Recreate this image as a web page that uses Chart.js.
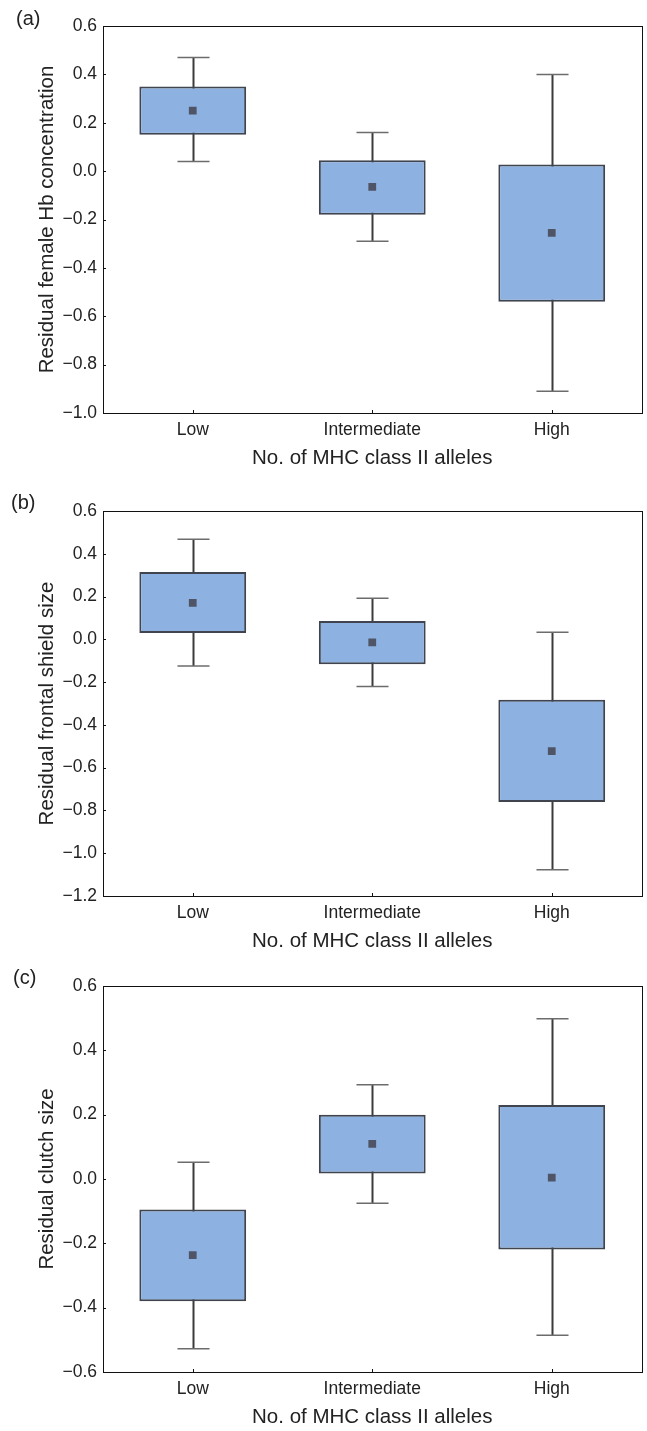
<!DOCTYPE html>
<html>
<head>
<meta charset="utf-8">
<script src="https://cdn.jsdelivr.net/npm/chart.js@4.4.1/dist/chart.umd.min.js"></script>
<style>
  html, body { margin: 0; padding: 0; background: #fff; overflow: hidden; }
  body { width: 647px; height: 1431px; position: relative; font-family: "Liberation Sans", Arial, sans-serif; }
  .panel { position: absolute; left: 0; width: 647px; }
  .tag { position: absolute; font-size: 20px; color: #222; line-height: 24px; }
</style>
</head>
<body>
<div class="panel" style="top:0px;height:471px"><canvas id="chartA"></canvas></div>
<div class="panel" style="top:485px;height:469px"><canvas id="chartB"></canvas></div>
<div class="panel" style="top:960px;height:470px"><canvas id="chartC"></canvas></div>
<div class="tag" style="left:16px;top:6px">(a)</div>
<div class="tag" style="left:11px;top:490px">(b)</div>
<div class="tag" style="left:13px;top:965px">(c)</div>
<script>
const categories = ["Low", "Intermediate", "High"]
const xTitle = "No. of MHC class II alleles"

// (a) haemoglobin
const hbMin  = [0.04, -0.29, -0.91]
const hbQ1   = [0.15, -0.18, -0.54]
const hbMean = [0.25, -0.065, -0.255]
const hbQ3   = [0.35, 0.045, 0.027]
const hbMax  = [0.47, 0.16, 0.40]
const hbTicks = [0.6, 0.4, 0.2, 0.0, -0.2, -0.4, -0.6, -0.8, -1.0]

// (b) frontal shield
const shieldMin  = [-0.125, -0.22, -1.077]
const shieldQ1   = [0.03, -0.116, -0.76]
const shieldMean = [0.17, -0.014, -0.523]
const shieldQ3   = [0.315, 0.086, -0.283]
const shieldMax  = [0.468, 0.192, 0.033]
const shieldTicks = [0.6, 0.4, 0.2, 0.0, -0.2, -0.4, -0.6, -0.8, -1.0, -1.2]

// (c) clutch size
const clutchMin  = [-0.528, -0.075, -0.486]
const clutchQ1   = [-0.38, 0.017, -0.219]
const clutchMean = [-0.237, 0.109, 0.004]
const clutchQ3   = [-0.095, 0.200, 0.230]
const clutchMax  = [0.052, 0.293, 0.498]
const clutchTicks = [0.6, 0.4, 0.2, 0.0, -0.2, -0.4, -0.6]

const FONT = "'Liberation Sans', Arial, sans-serif"

function fmt(v) {
  let r = Math.round(v * 10) / 10
  if (Math.abs(r) < 1e-9) return "0.0"
  return (r < 0 ? "\u2212" : "") + Math.abs(r).toFixed(1)
}

// whiskers behind the boxes, frame and inward ticks on top
const boxExtras = {
  id: "boxExtras",
  beforeDatasetsDraw(chart) {
    const {ctx} = chart
    const y = chart.scales.y
    const w = chart.options.plugins.boxExtras
    const meta = chart.getDatasetMeta(0)
    ctx.save()
    meta.data.forEach((bar, i) => {
      const x = Math.round(bar.x) + 0.5
      const top = y.getPixelForValue(w.max[i])
      const bot = y.getPixelForValue(w.min[i])
      ctx.strokeStyle = "#3b3b3b"
      ctx.lineWidth = 2
      ctx.beginPath()
      ctx.moveTo(x, top)
      ctx.lineTo(x, bot)
      ctx.stroke()
      const half = bar.width * 0.15
      ctx.strokeStyle = "#6c6c6c"
      ctx.lineWidth = 1.5
      ctx.beginPath()
      ctx.moveTo(x - half, top)
      ctx.lineTo(x + half, top)
      ctx.moveTo(x - half, bot)
      ctx.lineTo(x + half, bot)
      ctx.stroke()
    })
    ctx.restore()
  },
  afterDraw(chart) {
    const {ctx, chartArea: a} = chart
    const x = chart.scales.x, y = chart.scales.y
    ctx.save()
    ctx.strokeStyle = "#111"
    ctx.lineWidth = 1
    ctx.strokeRect(Math.round(a.left) + 0.5, Math.round(a.top) + 0.5,
      Math.round(a.right - a.left), Math.round(a.bottom - a.top))
    ctx.beginPath()
    y.ticks.forEach((t, i) => {
      const py = Math.round(y.getPixelForTick(i)) + 0.5
      ctx.moveTo(a.left, py)
      ctx.lineTo(a.left + 3, py)
    })
    x.ticks.forEach((t, i) => {
      const px = Math.round(x.getPixelForTick(i)) + 0.5
      ctx.moveTo(px, a.bottom)
      ctx.lineTo(px, a.bottom - 3)
    })
    ctx.stroke()
    ctx.restore()
  }
}

function makePanel(id, yLabel, mins, q1, means, q3, maxs, ticks) {
  return new Chart(document.getElementById(id), {
    type: "bar",
    data: {
      labels: categories,
      datasets: [
        {
          label: "box",
          data: q1.map((v, i) => [v, q3[i]]),
          backgroundColor: "#8db2e2",
          borderColor: "#3f444e",
          borderWidth: 2,
          borderSkipped: false,
          barPercentage: 0.595,
          categoryPercentage: 1,
          order: 2
        },
        {
          type: "line",
          label: "mean",
          data: means,
          showLine: false,
          pointStyle: "rect",
          pointRadius: 5.5,
          pointBorderWidth: 0,
          pointBackgroundColor: "#4f5566",
          order: 1
        }
      ]
    },
    options: {
      responsive: true,
      maintainAspectRatio: false,
      animation: false,
      events: [],
      layout: {padding: {top: 26, right: 4, left: 0, bottom: 0}},
      plugins: {
        legend: {display: false},
        tooltip: {enabled: false},
        boxExtras: {min: mins, max: maxs}
      },
      scales: {
        x: {
          grid: {display: false, drawTicks: false},
          border: {display: false},
          ticks: {color: "#222", font: {family: FONT, size: 17.5}, padding: 7},
          title: {display: true, text: xTitle, color: "#222",
            font: {family: FONT, size: 20.5}, padding: {top: 0, bottom: 0}},
          afterFit(s) { s.height = 58 }
        },
        y: {
          min: ticks[ticks.length - 1],
          max: ticks[0],
          afterBuildTicks(s) { s.ticks = ticks.map(v => ({value: v})) },
          grid: {display: false, drawTicks: false},
          border: {display: false},
          ticks: {color: "#222", font: {family: FONT, size: 17.5}, padding: 6,
            callback: v => fmt(v)},
          title: {display: true, text: yLabel, color: "#222",
            font: {family: FONT, size: 20.5}, padding: {top: 35, bottom: 0}},
          afterFit(s) { s.width = 103 }
        }
      }
    },
    plugins: [boxExtras]
  })
}

makePanel("chartA", "Residual female Hb concentration", hbMin, hbQ1, hbMean, hbQ3, hbMax, hbTicks)
makePanel("chartB", "Residual frontal shield size", shieldMin, shieldQ1, shieldMean, shieldQ3, shieldMax, shieldTicks)
makePanel("chartC", "Residual clutch size", clutchMin, clutchQ1, clutchMean, clutchQ3, clutchMax, clutchTicks)
</script>
</body>
</html>
